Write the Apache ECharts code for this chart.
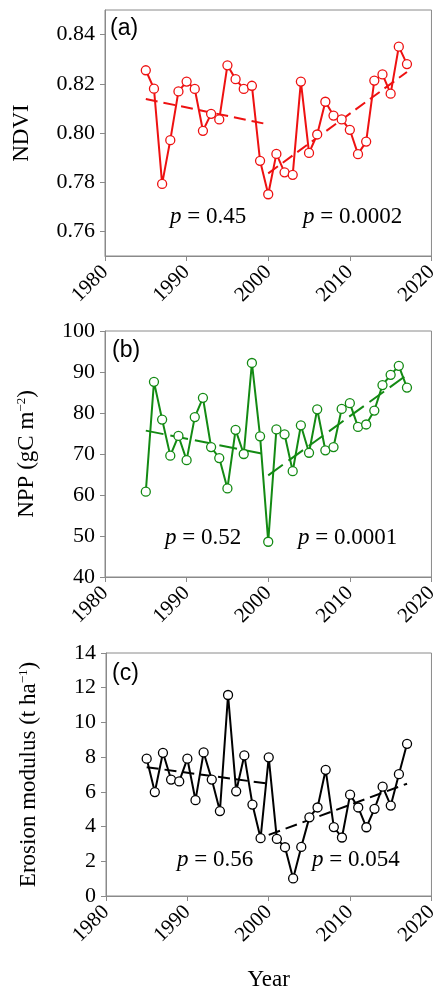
<!DOCTYPE html>
<html>
<head>
<meta charset="utf-8">
<script src="https://cdn.jsdelivr.net/npm/echarts@6/dist/echarts.min.js"></script>
<style>
  html, body { margin:0; padding:0; background:#fff; }
  #main { width:441px; height:992px; }
</style>
</head>
<body>
<div id="main"></div>
<script>
// years
var years = [1985,1986,1987,1988,1989,1990,1991,1992,1993,1994,1995,1996,1997,1998,1999,2000,
  2001,2002,2003,2004,2005,2006,2007,2008,2009,2010,2011,2012,2013,2014,2015,2016,2017];

// (a) NDVI
var ndvi = [0.8255,0.8180,0.7793,0.7971,0.8169,0.8209,0.8179,0.8009,0.8078,0.8055,0.8275,
  0.8219,0.8179,0.8192,0.7887,0.7751,0.7915,0.7840,0.7830,0.8209,0.7919,0.7994,0.8127,
  0.8071,0.8055,0.8013,0.7914,0.7965,0.8213,0.8238,0.8160,0.8351,0.8280];
// (b) NPP
var npp = [60.8,87.6,78.4,69.6,74.4,68.5,79.0,83.7,71.7,69.0,61.6,75.9,70.0,92.2,74.3,48.6,
  76.0,74.8,65.8,77.0,70.3,80.9,70.9,71.7,81.0,82.4,76.6,77.2,80.6,86.8,89.3,91.5,86.2];
// (c) erosion modulus
var erosion = [7.91,5.99,8.25,6.71,6.60,7.91,5.52,8.27,6.71,4.89,11.58,6.03,8.10,5.27,3.33,7.99,
  3.29,2.81,1.01,2.83,4.53,5.10,7.27,3.97,3.37,5.84,5.10,3.96,5.02,6.30,5.21,7.02,8.77];

// piecewise trend lines (start year, end year values)
var ndviTrend1 = [[1985,0.8138],[2000,0.8035]];
var ndviTrend2 = [[2000,0.7836],[2017,0.8248]];
var nppTrend1 = [[1985,75.7],[2000,69.8]];
var nppTrend2 = [[2000,64.8],[2017,89.3]];
var eroTrend1 = [[1985,7.42],[2000,6.47]];
var eroTrend2 = [[2000,3.52],[2017,6.47]];

// tick labels
var ndviTicks = [0.76,0.78,0.80,0.82,0.84];
var pTexts = [['0.45','0.0002'],['0.52','0.0001'],['0.56','0.054']];
var panelNames = ['(a)','(b)','(c)'];

var serif = 'Liberation Serif, Times New Roman, serif';
var sans = 'Liberation Sans, Arial, sans-serif';
var frame = '#8a8a8a';

var chart = echarts.init(document.getElementById('main'));

function pair(arr){
  var out = [];
  for (var i = 0; i < years.length; i++) out.push([years[i], arr[i]]);
  return out;
}

var grids = [
  {left:105, top:10, width:328, height:246},
  {left:105, top:331, width:328, height:246},
  {left:106, top:653, width:327, height:245}
];

var xAxes = [];
for (var g = 0; g < 3; g++) {
  grids[g].show = true;
  grids[g].borderColor = frame;
  grids[g].borderWidth = 1;
  xAxes.push({
    type:'value', gridIndex:g, min:1980, max:2020, interval:10,
    axisLine:{show:true, lineStyle:{color:frame, width:1}},
    axisTick:{show:true, inside:false, length:5, lineStyle:{color:frame}},
    splitLine:{show:false},
    axisLabel:{rotate:45, margin:13, color:'#000', fontFamily:serif, fontSize:21,
      formatter:function(v){ return String(v); }},
    name: g === 2 ? 'Year' : '',
    nameLocation:'middle', nameGap:72,
    nameTextStyle:{fontFamily:serif, fontSize:23, color:'#000'}
  });
}

function yBase(g){
  return {
    type:'value', gridIndex:g,
    axisLine:{show:true, lineStyle:{color:frame, width:1}},
    axisTick:{show:true, inside:false, length:5, lineStyle:{color:frame}},
    splitLine:{show:false},
    axisLabel:{margin:10, color:'#000', fontFamily:serif, fontSize:22},
    nameLocation:'middle', nameRotate:90,
    nameTextStyle:{fontFamily:serif, fontSize:23, color:'#000',
      rich:{
        n:{fontFamily:serif, fontSize:23, color:'#000'},
        s:{fontFamily:serif, fontSize:13, color:'#000', verticalAlign:'top'}
      }}
  };
}

var y0 = yBase(0);
y0.min = 0.75; y0.max = 0.85;
y0.axisTick.customValues = ndviTicks;
y0.axisLabel.customValues = ndviTicks;
y0.axisLabel.formatter = function(v){ return v.toFixed(2); };
y0.name = 'NDVI'; y0.nameGap = 72;

var y1 = yBase(1);
y1.min = 40; y1.max = 100; y1.interval = 10;
y1.name = '{n|NPP (gC m}{s|−2}{n|)}'; y1.nameGap = 67;

var y2 = yBase(2);
y2.min = 0; y2.max = 14; y2.interval = 2;
y2.name = '{n|Erosion modulus (t ha}{s|−1}{n|)}'; y2.nameGap = 66;

function dataSeries(g, arr, color){
  return {
    type:'line', xAxisIndex:g, yAxisIndex:g, data:pair(arr),
    symbol:'circle', symbolSize:9, z:3,
    lineStyle:{color:color, width:2},
    itemStyle:{color:'#fff', borderColor:color, borderWidth:1.3},
    animation:false
  };
}
function trendSeries(g, d, color, dash){
  return {
    type:'line', xAxisIndex:g, yAxisIndex:g, data:d, symbol:'none', z:2,
    lineStyle:{color:color, width:2, type:dash}, animation:false
  };
}

var colors = ['#ee1111','#138a13','#000000'];

var series = [
  trendSeries(0, ndviTrend1, colors[0], [12,6]),
  trendSeries(0, ndviTrend2, colors[0], [12,6]),
  dataSeries(0, ndvi, colors[0]),
  trendSeries(1, nppTrend1, colors[1], [18,7]),
  trendSeries(1, nppTrend2, colors[1], [18,7]),
  dataSeries(1, npp, colors[1]),
  trendSeries(2, eroTrend1, colors[2], [12,6]),
  trendSeries(2, eroTrend2, colors[2], [12,6]),
  dataSeries(2, erosion, colors[2])
];

// annotation positions (text only)
var pPos = [[[170,217],[303,217]],[[165,538],[298,538]],[[177,860],[312,860]]];
var panelPos = [[110,30],[112,352],[112,675]];
var graphics = [];
for (var k = 0; k < 3; k++) {
  graphics.push({
    type:'text', left:panelPos[k][0], top:panelPos[k][1]-13,
    style:{text:panelNames[k], font:'23px ' + sans, fill:'#000'}
  });
  for (var j = 0; j < 2; j++) {
    graphics.push({
      type:'text', x:pPos[k][j][0], y:pPos[k][j][1],
      style:{
        text:'{i|p} = ' + pTexts[k][j],
        fill:'#000', font:'23px ' + serif, verticalAlign:'middle',
        rich:{i:{fontStyle:'italic', fontFamily:serif, fontSize:23, fill:'#000'}}
      }
    });
  }
}

chart.setOption({
  backgroundColor:'#fff',
  animation:false,
  grid:grids,
  xAxis:xAxes,
  yAxis:[y0,y1,y2],
  series:series,
  graphic:graphics
});
</script>
</body>
</html>
